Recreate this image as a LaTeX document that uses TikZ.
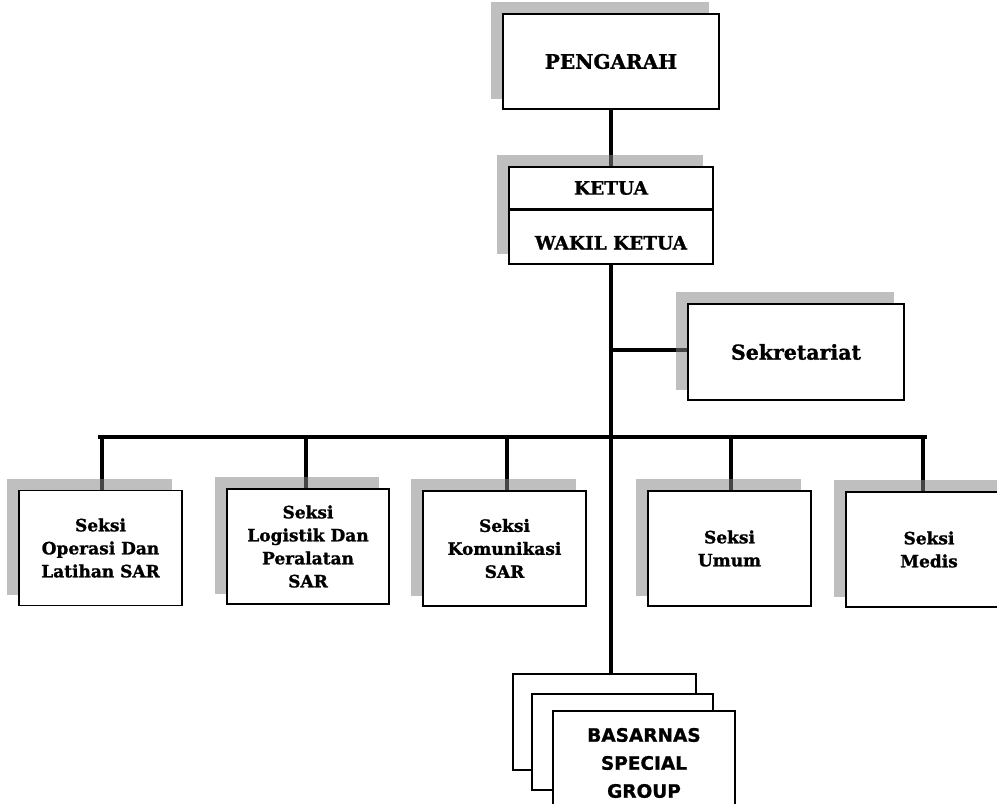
\documentclass[tikz,border=0pt]{standalone}
\usepackage{fontspec}
\setmainfont{DejaVu Serif}[BoldFeatures={FakeBold=1.2}]
\newfontfamily\sansb{DejaVu Sans}[BoldFeatures={FakeBold=1}]
\pgfdeclarelayer{lines}
\pgfdeclarelayer{shadows}
\pgfsetlayers{lines,shadows,main}
\tikzset{
  box/.style={draw=black, line width=1.4pt, fill=white, inner sep=0pt, align=center, font=\bfseries},
  shadowfill/.style={fill=black!48, fill opacity=0.52},
  conn/.style={line width=4.2pt, line cap=butt},
  stack/.style={draw=black, line width=1.3pt, fill=white, inner sep=0pt},
  sec/.style={box, minimum width=163pt, minimum height=115pt, font=\bfseries\fontsize{17}{23}\selectfont},
}
\newcommand{\shadowof}[2]{%
  \begin{pgfonlayer}{shadows}
  \fill[shadowfill] ([shift={(-11,-11)}]#1.north west) rectangle ([shift={(-11,-11)}]#2.south east);
  \end{pgfonlayer}}
\begin{document}
\begin{tikzpicture}[x=1pt, y=-1pt]
\useasboundingbox (0,0) rectangle (997,804);
\clip (0,0) rectangle (997,804);

% top boxes
\node[box, minimum width=216pt, minimum height=95pt, font=\bfseries\fontsize{20}{22}\selectfont] (peng) at (611,61.5) {PENGARAH};
\node[box, minimum width=204pt, minimum height=42pt, font=\bfseries\fontsize{18.5}{20}\selectfont] (ketua) at (611,188) {KETUA};
\node[box, minimum width=204pt, minimum height=55pt, font=\bfseries\fontsize{18.5}{20}\selectfont] (wakil) at (611,236.5) {\raisebox{-13pt}[0pt][0pt]{WAKIL KETUA}};
\draw[line width=3.5pt] (ketua.south west) -- (ketua.south east);
\node[box, minimum width=216pt, minimum height=96pt, font=\bfseries\fontsize{20.5}{22}\selectfont] (sek) at (796,352) {Sekretariat};

% section boxes
\node[sec] (s1) at (100.5,548) {Seksi\\Operasi Dan\\Latihan SAR};
\node[sec, minimum width=162pt] (s2) at (308,546.5) {Seksi\\Logistik Dan\\Peralatan\\SAR};
\node[sec] (s3) at (504.5,548.5) {Seksi\\Komunikasi\\SAR};
\node[sec] (s4) at (729.5,548.5) {Seksi\\Umum};
\node[sec, minimum width=166pt] (s5) at (929,549.5) {Seksi\\Medis};

% shadows
\shadowof{peng}{peng}
\shadowof{ketua}{wakil}
\shadowof{sek}{sek}
\shadowof{s1}{s1}
\shadowof{s2}{s2}
\shadowof{s3}{s3}
\shadowof{s4}{s4}
\shadowof{s5}{s5}

% BASARNAS stack
\node[stack, minimum width=183pt, minimum height=96pt] (bs1) at (604.5,722) {};
\node[stack, minimum width=181pt, minimum height=96pt] (bs2) at (622.5,742) {};
\node[stack, minimum width=182pt, minimum height=104pt, align=center, font=\sansb\bfseries\fontsize{18.5}{28}\selectfont] (bs3) at (644,763) {BASARNAS\\SPECIAL\\GROUP};

% connectors
\coordinate (busL) at (100,437);
\coordinate (busR) at (925,437);
\coordinate (sj) at (611,350);
\coordinate (d1) at (102,437);
\coordinate (d2) at (306,437);
\coordinate (d3) at (507,437);
\coordinate (d4) at (731,437);
\coordinate (d5) at (923,437);
\begin{pgfonlayer}{lines}
\draw[conn] (peng.south) -- (ketua.north);
\draw[conn] (wakil.south) -- (wakil.south |- bs1.north);
\draw[conn] (sj) -- (sek.west |- sj);
\draw[conn, line cap=rect] (busL) -- (busR);
\draw[conn] (d1) -- (d1 |- s1.north);
\draw[conn] (d2) -- (d2 |- s2.north);
\draw[conn] (d3) -- (d3 |- s3.north);
\draw[conn] (d4) -- (d4 |- s4.north);
\draw[conn] (d5) -- (d5 |- s5.north);
\end{pgfonlayer}
\end{tikzpicture}
\end{document}
